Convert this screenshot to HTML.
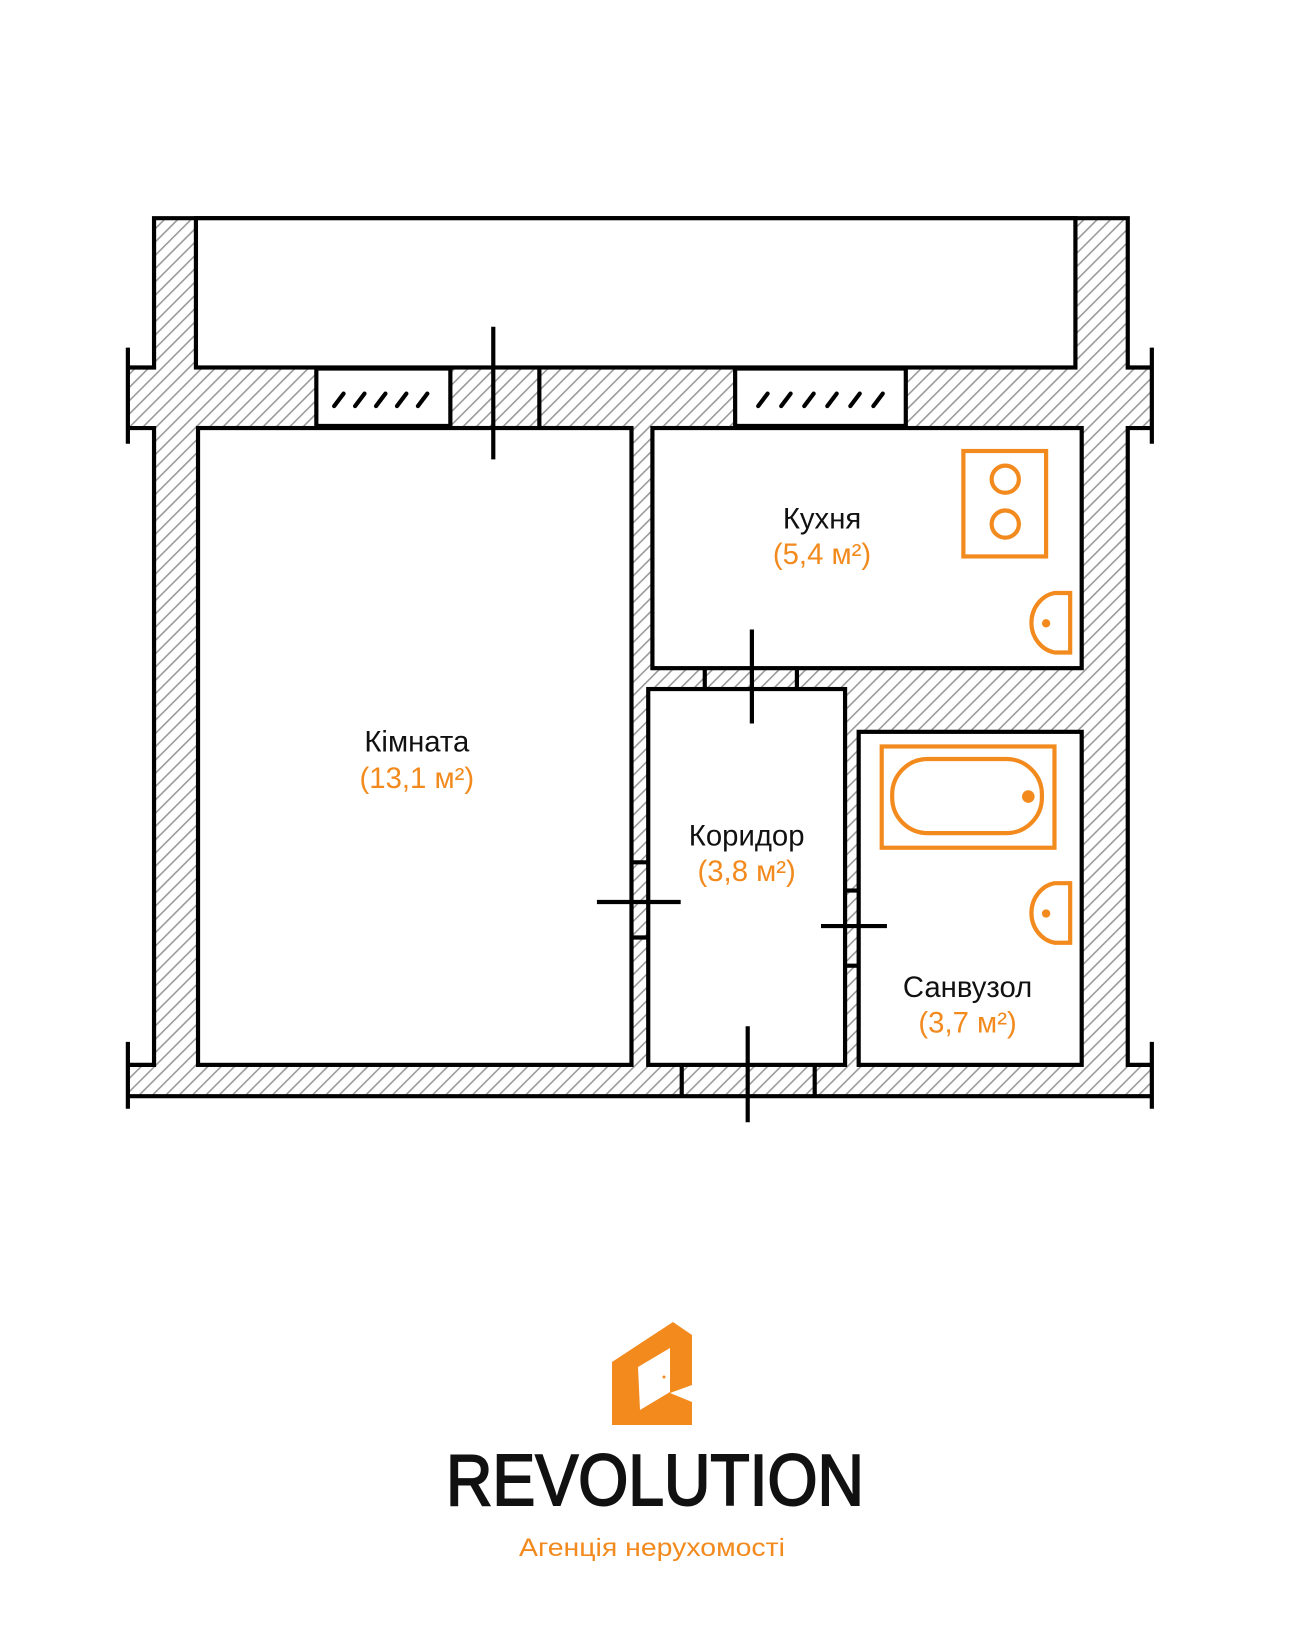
<!DOCTYPE html>
<html><head><meta charset="utf-8"><style>
html,body{margin:0;padding:0;background:#fff;}
svg{display:block}
</style></head><body>
<svg width="1310" height="1638" viewBox="0 0 1310 1638" xmlns="http://www.w3.org/2000/svg">
<defs>
<pattern id="h" patternUnits="userSpaceOnUse" width="9" height="9" patternTransform="rotate(45)">
<rect width="9" height="9" fill="#fff"/>
<line x1="0" y1="0" x2="0" y2="9" stroke="#999" stroke-width="3"/>
</pattern>
</defs>
<rect width="1310" height="1638" fill="#fff"/>
<g transform="matrix(1.047 0 0 1.044 -3 0)">
<g stroke="#000" stroke-width="4" fill="none">
<polygon fill="url(#h)" stroke="none" points="150,209 1080,209 1080,352 1103,352 1103,410 1080,410 1080,1020 1103,1020 1103,1050 125,1050 125,1020 150,1020 150,410 125,410 125,352 150,352"/>
<polyline points="125,352 150,352 150,209 1080,209 1080,352 1103,352"/>
<polyline points="125,410 150,410 150,1020 125,1020"/>
<polyline points="1103,410 1080,410 1080,1020 1103,1020"/>
<line x1="125" y1="1050" x2="1103" y2="1050"/>
<line x1="125" y1="333" x2="125" y2="425"/>
<line x1="1103" y1="333" x2="1103" y2="425"/>
<line x1="125" y1="998" x2="125" y2="1062"/>
<line x1="1103" y1="998" x2="1103" y2="1062"/>
<rect x="190" y="209" width="840" height="143" fill="#fff"/>
<rect x="305" y="353" width="128" height="55" fill="#fff"/>
<rect x="705" y="353" width="163" height="55" fill="#fff"/>
<line x1="518" y1="353" x2="518" y2="408"/>
<rect x="192" y="410" width="414" height="610" fill="#fff"/>
<rect x="626" y="410" width="410" height="230" fill="#fff"/>
<rect x="622" y="660" width="188" height="360" fill="#fff"/>
<rect x="823" y="701" width="213" height="319" fill="#fff"/>
<line x1="474" y1="313" x2="474" y2="440"/>
<line x1="676" y1="640" x2="676" y2="660"/><line x1="764" y1="640" x2="764" y2="660"/>
<line x1="721" y1="603" x2="721" y2="693"/>
<line x1="606" y1="826" x2="622" y2="826"/><line x1="606" y1="898" x2="622" y2="898"/>
<line x1="573" y1="864" x2="653" y2="864"/>
<line x1="810" y1="853" x2="823" y2="853"/><line x1="810" y1="925" x2="823" y2="925"/>
<line x1="787" y1="887" x2="850" y2="887"/>
<line x1="654" y1="1020" x2="654" y2="1050"/><line x1="781" y1="1020" x2="781" y2="1050"/>
<line x1="717" y1="983" x2="717" y2="1075"/>
</g>
<g stroke="#000" stroke-width="4" stroke-linecap="round">
<line x1="322" y1="389" x2="331" y2="377"/><line x1="342" y1="389" x2="351" y2="377"/><line x1="362" y1="389" x2="371" y2="377"/><line x1="382" y1="389" x2="391" y2="377"/><line x1="402" y1="389" x2="411" y2="377"/>
<line x1="727" y1="389" x2="736" y2="377"/><line x1="749" y1="389" x2="758" y2="377"/><line x1="771" y1="389" x2="780" y2="377"/><line x1="793" y1="389" x2="802" y2="377"/><line x1="815" y1="389" x2="824" y2="377"/><line x1="837" y1="389" x2="846" y2="377"/>
</g>
<g stroke="#f28a1e" stroke-width="4" fill="none">
<rect x="923" y="432" width="79" height="101"/>
<circle cx="963" cy="459" r="13"/><circle cx="963" cy="502" r="13"/>
<path d="M1025,568 L1010,568 A27,29 0 0 0 1010,625 L1025,625 Z"/>
<path d="M1025,846 L1010,846 A27,29 0 0 0 1010,903 L1025,903 Z"/>
<rect x="845" y="715" width="165" height="97"/>
<rect x="855" y="727" width="143" height="71" rx="34"/>
</g>
<g fill="#f28a1e"><circle cx="1002" cy="597" r="4"/><circle cx="1002" cy="875" r="4"/><circle cx="985" cy="763" r="6"/></g>
<g font-family="'Liberation Sans','DejaVu Sans',sans-serif" font-size="28" text-anchor="middle">
<text x="401" y="720" fill="#111">Кімната</text>
<text x="401" y="755" fill="#f28a1e">(13,1 м²)</text>
<text x="788" y="506" fill="#111">Кухня</text>
<text x="788" y="540" fill="#f28a1e">(5,4 м²)</text>
<text x="716" y="810" fill="#111">Коридор</text>
<text x="716" y="844" fill="#f28a1e">(3,8 м²)</text>
<text x="927" y="955" fill="#111">Санвузол</text>
<text x="927" y="989" fill="#f28a1e">(3,7 м²)</text>
</g>
</g>
<polygon fill="#f28a1e" points="612,1362 673,1322 692,1335 692,1385 670,1393 692,1402 692,1425 612,1425"/>
<polygon fill="#fff" points="638,1367 670,1348 670,1392 640,1410"/>
<circle cx="664" cy="1377" r="1.5" fill="#f28a1e"/>
<text x="655" y="1505" text-anchor="middle" font-family="'Liberation Sans',sans-serif" font-size="72" fill="#111" stroke="#111" stroke-width="2" textLength="418" lengthAdjust="spacingAndGlyphs">REVOLUTION</text>
<text x="652" y="1556" text-anchor="middle" font-family="'Liberation Sans','DejaVu Sans',sans-serif" font-size="25" fill="#f28a1e" textLength="266" lengthAdjust="spacingAndGlyphs">Агенція нерухомості</text>
</svg>
</body></html>
